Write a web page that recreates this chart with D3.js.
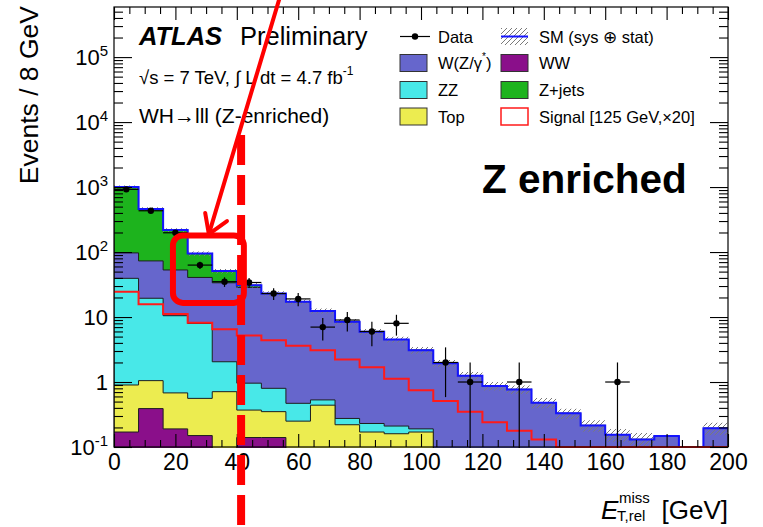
<!DOCTYPE html>
<html>
<head>
<meta charset="utf-8">
<script src="https://cdn.jsdelivr.net/npm/d3@7"></script>
<style>
  html, body { margin: 0; padding: 0; background: #fff; }
  svg { display: block; }
  text { font-family: "Liberation Sans", Arial, Helvetica, sans-serif; }
</style>
</head>
<body>
<svg id="chart" width="763" height="527"></svg>
<script>
// ---- Histogram content: E_T,rel^miss in 8 GeV bins from 0 to 200 GeV ----
const binLowEdges = [0, 8, 16, 24, 32, 40, 48, 56, 64, 72, 80, 88, 96, 104, 112, 120, 128, 136, 144, 152, 160, 168, 176, 184, 192];
const binWidth = 8;

// Background expectations per bin (events / 8 GeV)
const wwEvents    = [0.17, 0.39, 0.19, 0.15, 0, 0.14, 0.14, 0, 0, 0, 0, 0, 0, 0, 0, 0, 0, 0, 0, 0, 0, 0, 0, 0, 0];
const topEvents   = [0.73, 0.66, 0.49, 0.41, 0.71, 0.23, 0.21, 0.25, 0.44, 0.22, 0.17, 0.16, 0.17, 0, 0, 0, 0, 0, 0, 0, 0, 0, 0, 0, 0];
const zzEvents    = [38.5, 18.4, 9.8, 7.4, 1.34, 0.59, 0.45, 0.22, 0.09, 0.055, 0.06, 0.05, 0.02, 0, 0, 0, 0, 0, 0, 0, 0, 0, 0, 0, 0];
const wzEvents    = [57.6, 53.6, 42.5, 32.7, 31.6, 27.6, 22.2, 16.7, 11.9, 8.2, 5.7, 4.3, 2.9, 1.94, 1.25, 0.87, 0.77, 0.48, 0.33, 0.215, 0.155, 0.131, 0.148, 0, 0.194];
const zjetsEvents = [903, 387, 165, 54, 17.3, 2.4, 0, 0, 0, 0, 0, 0, 0, 0, 0, 0, 0, 0, 0, 0, 0, 0, 0, 0, 0];

// Relative systematic (+) statistical uncertainty on the total SM prediction
const smRelUncertainty = [0.06, 0.06, 0.07, 0.08, 0.08, 0.08, 0.08, 0.08, 0.09, 0.1, 0.1, 0.1, 0.12, 0.12, 0.14, 0.15, 0.15, 0.18, 0.18, 0.2, 0.22, 0.25, 0.3, 0, 0.22];

// Signal, m_H = 125 GeV, scaled by 20
const signalEvents = [24.5, 15.7, 11.1, 8.2, 6.5, 5.2, 4.4, 3.6, 3.07, 2.23, 1.68, 1.12, 0.75, 0.51, 0.35, 0.24, 0.178, 0.131, 0, 0, 0, 0, 0, 0, 0];

// Observed events
const dataEvents = [922, 432, 198, 63, 35, 34, 23, 19, 7, 9, 6, 8, 0, 2, 1, 0, 1, 0, 0, 0, 1, 0, 0, 0, 0];

// Axes
const xDomain = [0, 200];
const yDomain = [0.1, 5.9e5];
const xTickValues = [0, 20, 40, 60, 80, 100, 120, 140, 160, 180, 200];
const yTickValues = [0.1, 1, 10, 100, 1e3, 1e4, 1e5];
const yTickLabels = ["10^-1", "1", "10", "10^2", "10^3", "10^4", "10^5"];

// Stack layers, bottom to top
const stackKeys   = ["ww", "top", "zz", "wz", "zjets"];
const stackColors = { ww: "#8a0f8a", top: "#ecec50", zz: "#48e8e8", wz: "#6666cc", zjets: "#1db31d" };

// ---- Layout ----
const svg = d3.select("#chart");
const plot = { left: 114, right: 728, top: 7, bottom: 447 };

const x = d3.scaleLinear().domain(xDomain).range([plot.left, plot.right]);
const y = d3.scaleLog().domain(yDomain).range([plot.bottom, plot.top]);
const floorValue = 0.05;   // below the visible range: bars and fills start off-frame

const defs = svg.append("defs");
defs.append("clipPath").attr("id", "plotClip")
  .append("rect")
  .attr("x", plot.left).attr("y", plot.top - 1)
  .attr("width", plot.right - plot.left).attr("height", plot.bottom - plot.top + 2);

const hatch = defs.append("pattern")
  .attr("id", "hatch").attr("patternUnits", "userSpaceOnUse")
  .attr("width", 5).attr("height", 5);
hatch.append("path")
  .attr("d", "M-1,1 l2,-2 M0,5 l5,-5 M4,6 l2,-2")
  .attr("stroke", "#7a7a7a").attr("stroke-width", 1);

// ---- Stacked backgrounds ----
const rows = binLowEdges.map((lo, i) => ({
  lo, ww: wwEvents[i], top: topEvents[i], zz: zzEvents[i], wz: wzEvents[i], zjets: zjetsEvents[i]
}));
const stacked = d3.stack().keys(stackKeys)(rows);

// step points for a per-bin value array (extra point closes the last bin)
function stepPoints(values) {
  const pts = binLowEdges.map((lo, i) => ({ x: lo, v: values[i] }));
  pts.push({ x: binLowEdges[binLowEdges.length - 1] + binWidth, v: values[values.length - 1] });
  return pts;
}

const stepArea = d3.area()
  .curve(d3.curveStepAfter)
  .x(d => x(d.x))
  .y0(y(floorValue))
  .y1(d => y(Math.max(d.v, floorValue)));

const content = svg.append("g").attr("clip-path", "url(#plotClip)");

// draw cumulative histograms from the top layer down, as stacked histograms are painted
stacked.slice().reverse().forEach(layer => {
  const cumulative = layer.map(d => d[1]);
  content.append("path")
    .datum(stepPoints(cumulative))
    .attr("d", stepArea)
    .attr("fill", stackColors[layer.key])
    .attr("stroke", "#1e1e1e")
    .attr("stroke-width", 1);
});

// ---- SM total with uncertainty band ----
const smTotal = stacked[stacked.length - 1].map(d => d[1]);

const bandPoints = stepPoints(smTotal).map((p, i) => {
  const k = Math.min(i, smTotal.length - 1);
  return { x: p.x, lo: smTotal[k] * (1 - smRelUncertainty[k]), hi: smTotal[k] * (1 + smRelUncertainty[k]), v: smTotal[k] };
});
content.append("path")
  .datum(bandPoints)
  .attr("d", d3.area()
    .curve(d3.curveStepAfter)
    .defined(d => d.v > 0)
    .x(d => x(d.x))
    .y0(d => y(Math.max(d.lo, floorValue)))
    .y1(d => y(d.hi)))
  .attr("fill", "url(#hatch)");

const stepLine = d3.line()
  .curve(d3.curveStepAfter)
  .x(d => x(d.x))
  .y(d => y(Math.max(d.v, yDomain[0])));

content.append("path")
  .datum(stepPoints(smTotal))
  .attr("d", stepLine)
  .attr("fill", "none")
  .attr("stroke", "#1414ff")
  .attr("stroke-width", 2);

// ---- Signal ----
content.append("path")
  .datum(stepPoints(signalEvents))
  .attr("d", stepLine)
  .attr("fill", "none")
  .attr("stroke", "#ff1a1a")
  .attr("stroke-width", 2);

// ---- Data with Poisson (sqrt N) errors ----
const dataPts = binLowEdges.map((lo, i) => ({ lo, n: dataEvents[i] })).filter(d => d.n > 0);
const dataG = content.append("g");
dataG.selectAll("line.ey").data(dataPts).join("line")
  .attr("x1", d => x(d.lo + binWidth / 2)).attr("x2", d => x(d.lo + binWidth / 2))
  .attr("y1", d => y(d.n + Math.sqrt(d.n)))
  .attr("y2", d => y(Math.max(d.n - Math.sqrt(d.n), floorValue)))
  .attr("stroke", "#000").attr("stroke-width", 1.2);
dataG.selectAll("line.ex").data(dataPts).join("line")
  .attr("x1", d => x(d.lo)).attr("x2", d => x(d.lo + binWidth))
  .attr("y1", d => y(d.n)).attr("y2", d => y(d.n))
  .attr("stroke", "#000").attr("stroke-width", 1.2);
dataG.selectAll("circle").data(dataPts).join("circle")
  .attr("cx", d => x(d.lo + binWidth / 2)).attr("cy", d => y(d.n))
  .attr("r", 3.2).attr("fill", "#000");

// ---- Axes (ticks drawn inside the frame on all four sides) ----
const xMinor = d3.range(0, 201, 5).filter(v => v % 20 !== 0);
const yMinor = y.ticks().filter(v => !yTickValues.some(t => Math.abs(t - v) / t < 1e-6));

function styleAxis(g) {
  g.select(".domain").remove();
  g.selectAll(".tick line").attr("stroke", "#000").attr("stroke-width", 1.1);
}

const axisFont = "Liberation Sans, Arial, Helvetica, sans-serif";

// bottom
svg.append("g").attr("transform", `translate(0,${plot.bottom})`)
  .call(d3.axisBottom(x).tickValues(xTickValues).tickSize(-13).tickPadding(7).tickFormat(d3.format("d")))
  .call(styleAxis)
  .call(g => g.selectAll(".tick text").attr("font-size", 23).attr("font-family", axisFont).attr("fill", "#000"));
svg.append("g").attr("transform", `translate(0,${plot.bottom})`)
  .call(d3.axisBottom(x).tickValues(xMinor).tickSize(-7).tickFormat(""))
  .call(styleAxis);
// top
svg.append("g").attr("transform", `translate(0,${plot.top})`)
  .call(d3.axisTop(x).tickValues(xTickValues).tickSize(-13).tickFormat(""))
  .call(styleAxis);
svg.append("g").attr("transform", `translate(0,${plot.top})`)
  .call(d3.axisTop(x).tickValues(xMinor).tickSize(-7).tickFormat(""))
  .call(styleAxis);
// left
const yAxisG = svg.append("g").attr("transform", `translate(${plot.left},0)`)
  .call(d3.axisLeft(y).tickValues(yTickValues).tickSize(-18).tickPadding(6).tickFormat((d, i) => yTickLabels[i]))
  .call(styleAxis);
svg.append("g").attr("transform", `translate(${plot.left},0)`)
  .call(d3.axisLeft(y).tickValues(yMinor).tickSize(-9).tickFormat(""))
  .call(styleAxis);
// right
svg.append("g").attr("transform", `translate(${plot.right},0)`)
  .call(d3.axisRight(y).tickValues(yTickValues).tickSize(-18).tickFormat(""))
  .call(styleAxis);
svg.append("g").attr("transform", `translate(${plot.right},0)`)
  .call(d3.axisRight(y).tickValues(yMinor).tickSize(-9).tickFormat(""))
  .call(styleAxis);

// power-of-ten labels with superscript exponents
yAxisG.selectAll(".tick text").each(function () {
  const t = d3.select(this);
  const label = t.text();
  const [base, exp] = label.split("^");
  t.text(null).attr("font-size", 22).attr("font-family", axisFont).attr("fill", "#000");
  t.append("tspan").text(base);
  if (exp !== undefined) {
    t.append("tspan").attr("font-size", 15).attr("dy", "-0.6em").text(exp);
  }
});

// frame
svg.append("rect")
  .attr("x", plot.left).attr("y", plot.top)
  .attr("width", plot.right - plot.left).attr("height", plot.bottom - plot.top)
  .attr("fill", "none").attr("stroke", "#000").attr("stroke-width", 1.2);

// axis titles
svg.append("text")
  .attr("transform", `translate(38,${plot.top - 1}) rotate(-90)`)
  .attr("text-anchor", "end").attr("font-size", 26.5).attr("fill", "#000")
  .text("Events / 8 GeV");

const xTitle = svg.append("g");
xTitle.append("text").attr("x", 601).attr("y", 519)
  .attr("font-size", 26).attr("font-style", "italic").text("E");
xTitle.append("text").attr("x", 619).attr("y", 503).attr("font-size", 15).text("miss");
xTitle.append("text").attr("x", 617).attr("y", 521).attr("font-size", 15).text("T,rel");
xTitle.append("text").attr("x", plot.right).attr("y", 519).attr("text-anchor", "end")
  .attr("font-size", 26).text("[GeV]");

// ---- ATLAS labels ----
const lbl = svg.append("g");
lbl.append("text").attr("x", 139).attr("y", 45).attr("font-size", 25.5)
  .attr("font-weight", "bold").attr("font-style", "italic").text("ATLAS");
lbl.append("text").attr("x", 240).attr("y", 45).attr("font-size", 25.5).text("Preliminary");
const lumi = lbl.append("text").attr("x", 139).attr("y", 84).attr("font-size", 18.5);
lumi.append("tspan").text("\u221As = 7 TeV, \u222B L dt = 4.7 fb");
lumi.append("tspan").attr("font-size", 12).attr("dy", "-0.75em").text("-1");
lbl.append("text").attr("x", 139).attr("y", 123).attr("font-size", 21).text("WH\u2192lll (Z-enriched)");

// ---- Legend ----
const legendCols = [400, 501];
const legendRows = [36.5, 63, 90, 116.5];
const legendEntries = [
  { col: 0, row: 0, label: "Data", kind: "data" },
  { col: 1, row: 0, label: "SM (sys \u2295 stat)", kind: "band" },
  { col: 0, row: 1, label: "W(Z/\u03B3", sup: "*", tail: ")", kind: "fill", color: stackColors.wz },
  { col: 1, row: 1, label: "WW", kind: "fill", color: stackColors.ww },
  { col: 0, row: 2, label: "ZZ", kind: "fill", color: stackColors.zz },
  { col: 1, row: 2, label: "Z+jets", kind: "fill", color: stackColors.zjets },
  { col: 0, row: 3, label: "Top", kind: "fill", color: stackColors.top },
  { col: 1, row: 3, label: "Signal [125 GeV,\u00D720]", kind: "signal" }
];
const boxW = 27, boxH = 17;
const legend = svg.append("g");
legendEntries.forEach(e => {
  const bx = legendCols[e.col], cy = legendRows[e.row];
  const g = legend.append("g");
  if (e.kind === "data") {
    g.append("line").attr("x1", bx).attr("x2", bx + boxW + 3).attr("y1", cy).attr("y2", cy)
      .attr("stroke", "#000").attr("stroke-width", 1.2);
    g.append("circle").attr("cx", bx + (boxW + 3) / 2).attr("cy", cy).attr("r", 3.2).attr("fill", "#000");
  } else if (e.kind === "band") {
    g.append("rect").attr("x", bx).attr("y", cy - boxH / 2).attr("width", boxW).attr("height", boxH)
      .attr("fill", "url(#hatch)");
    g.append("line").attr("x1", bx).attr("x2", bx + boxW).attr("y1", cy).attr("y2", cy)
      .attr("stroke", "#1414ff").attr("stroke-width", 2);
  } else if (e.kind === "signal") {
    g.append("rect").attr("x", bx).attr("y", cy - boxH / 2).attr("width", boxW).attr("height", boxH)
      .attr("fill", "#fff").attr("stroke", "#ff1a1a").attr("stroke-width", 1.5);
  } else {
    g.append("rect").attr("x", bx).attr("y", cy - boxH / 2).attr("width", boxW).attr("height", boxH)
      .attr("fill", e.color).attr("stroke", "#333").attr("stroke-width", 1);
  }
  const t = g.append("text").attr("x", bx + boxW + 11).attr("y", cy + 6).attr("font-size", 16.5).attr("fill", "#000");
  t.append("tspan").text(e.label);
  if (e.sup) t.append("tspan").attr("font-size", 10).attr("dy", "-0.9em").text(e.sup);
  if (e.tail) t.append("tspan").attr("dy", "0.55em").text(e.tail);
});

// ---- Annotation: Z-enriched region marker ----
const red = "#ff0000";
const ann = svg.append("g");
// dashed cut line near 40 GeV
ann.append("line")
  .attr("x1", x(41.4)).attr("x2", x(41.4)).attr("y1", 135).attr("y2", 527)
  .attr("stroke", red).attr("stroke-width", 8).attr("stroke-dasharray", "30,10");
// rounded box around the 24-40 GeV bins
ann.append("rect")
  .attr("x", x(19.2)).attr("y", y(180))
  .attr("width", x(42.3) - x(19.2)).attr("height", y(16.5) - y(180))
  .attr("rx", 10).attr("ry", 10)
  .attr("fill", "none").attr("stroke", red).attr("stroke-width", 6);
// arrow pointing at the box
const arrowTail = { gev: 55.2, val: 9e5 };
const arrowTip = { gev: 30.9, val: 189 };
ann.append("line")
  .attr("x1", x(arrowTail.gev)).attr("y1", y(arrowTail.val) - 10)
  .attr("x2", x(arrowTip.gev)).attr("y2", y(arrowTip.val))
  .attr("stroke", red).attr("stroke-width", 4).attr("stroke-linecap", "round");
ann.append("path")
  .attr("d", d3.line()([[x(29.7), y(400)], [x(arrowTip.gev), y(arrowTip.val)], [x(36.8), y(300)]]))
  .attr("fill", "none").attr("stroke", red).attr("stroke-width", 4)
  .attr("stroke-linecap", "round").attr("stroke-linejoin", "round");

svg.append("text").attr("x", 482).attr("y", 193)
  .attr("font-family", "Lato, 'Open Sans', sans-serif").attr("font-weight", "bold")
  .attr("font-size", 40.5).attr("fill", "#000").text("Z enriched");
</script>
</body>
</html>
